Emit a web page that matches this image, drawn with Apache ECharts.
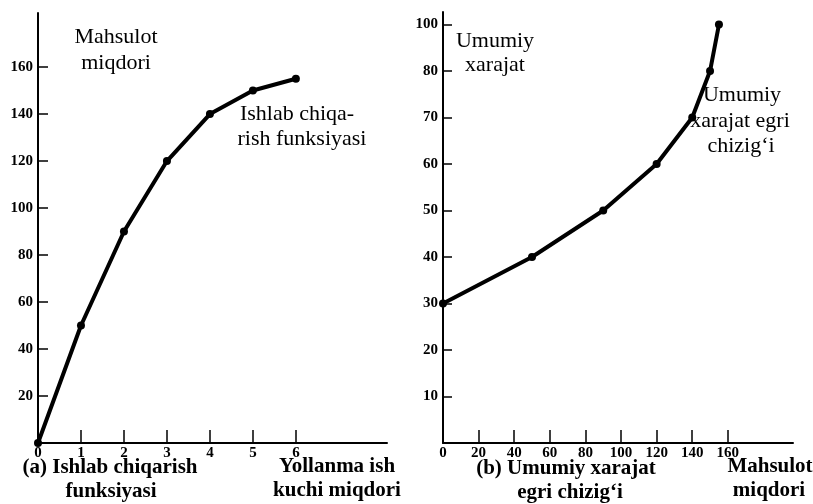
<!DOCTYPE html>
<html>
<head>
<meta charset="utf-8">
<script src="https://cdn.jsdelivr.net/npm/echarts@6/dist/echarts.min.js"></script>
<style>
  html, body { margin: 0; padding: 0; background: #ffffff; }
  #chart { width: 813px; height: 504px; }
</style>
</head>
<body>
<div id="chart"></div>
<script>
// ---- Data ----
const labor = [0, 1, 2, 3, 4, 5, 6];
const output = [0, 50, 90, 120, 140, 150, 155];
const costQuantity = [0, 50, 90, 120, 140, 150, 155];
const totalCost = [30, 40, 50, 60, 70, 80, 90];

// ---- Tick values / labels ----
const leftXTicks = [1, 2, 3, 4, 5, 6];
const leftXLabelValues = [0, 1, 2, 3, 4, 5, 6];
const leftYTicks = [20, 40, 60, 80, 100, 120, 140, 160];
const rightXTicks = [20, 40, 60, 80, 100, 120, 140, 160];
const rightXLabelValues = [0, 20, 40, 60, 80, 100, 120, 140, 160];
const rightYTicks = [10, 20, 30, 40, 50, 60, 70, 80, 90];
const rightYLabels = ['10', '20', '30', '40', '50', '60', '70', '80', '100'];

const SERIF = '"Liberation Serif", "DejaVu Serif", serif';
const axisLineStyle = { color: '#000', width: 2 };
const tickLine = { color: '#000', width: 1.5 };
const labelStyle = { color: '#000', fontFamily: SERIF, fontWeight: 'bold', fontSize: 15 };

function txt(text, x, y, size, bold, align) {
  return {
    type: 'text', x: x, y: y, silent: true,
    style: {
      text: text, fill: '#000',
      font: (bold ? 'bold ' : '') + size + 'px ' + SERIF,
      textAlign: align || 'center', textVerticalAlign: 'middle'
    }
  };
}

const chart = echarts.init(document.getElementById('chart'));
chart.setOption({
  animation: false,
  backgroundColor: '#ffffff',
  grid: [
    { left: 38, top: 13, width: 349, height: 430 },
    { left: 443, top: 12, width: 350, height: 431 }
  ],
  xAxis: [
    {
      gridIndex: 0, type: 'value', min: 0, max: 8.12,
      axisLine: { show: true, lineStyle: axisLineStyle },
      axisTick: { show: true, inside: true, length: 13, lineStyle: tickLine, customValues: leftXTicks },
      axisLabel: Object.assign({ margin: 3, customValues: leftXLabelValues, formatter: v => String(v) }, labelStyle),
      splitLine: { show: false }
    },
    {
      gridIndex: 1, type: 'value', min: 0, max: 196.6,
      axisLine: { show: true, lineStyle: axisLineStyle },
      axisTick: { show: true, inside: true, length: 13, lineStyle: tickLine, customValues: rightXTicks },
      axisLabel: Object.assign({ margin: 3, customValues: rightXLabelValues, formatter: v => String(v) }, labelStyle),
      splitLine: { show: false }
    }
  ],
  yAxis: [
    {
      gridIndex: 0, type: 'value', min: 0, max: 183,
      axisLine: { show: true, lineStyle: axisLineStyle },
      axisTick: { show: true, inside: true, length: 10, lineStyle: tickLine, customValues: leftYTicks },
      axisLabel: Object.assign({ margin: 5, customValues: leftYTicks, formatter: v => String(v) }, labelStyle),
      splitLine: { show: false }
    },
    {
      gridIndex: 1, type: 'value', min: 0, max: 92.7,
      axisLine: { show: true, lineStyle: axisLineStyle },
      axisTick: { show: true, inside: true, length: 9, lineStyle: tickLine, customValues: rightYTicks },
      axisLabel: Object.assign({
        margin: 5, customValues: rightYTicks,
        formatter: v => { const i = rightYTicks.indexOf(Math.round(v)); return i >= 0 ? rightYLabels[i] : ''; }
      }, labelStyle),
      splitLine: { show: false }
    }
  ],
  series: [
    {
      type: 'line', xAxisIndex: 0, yAxisIndex: 0,
      data: labor.map((l, i) => [l, output[i]]),
      symbol: 'circle', symbolSize: 8,
      lineStyle: { color: '#000', width: 4 },
      itemStyle: { color: '#000' },
      clip: false
    },
    {
      type: 'line', xAxisIndex: 1, yAxisIndex: 1,
      data: costQuantity.map((q, i) => [q, totalCost[i]]),
      symbol: 'circle', symbolSize: 8,
      lineStyle: { color: '#000', width: 4 },
      itemStyle: { color: '#000' },
      clip: false
    }
  ],
  graphic: [
    txt('Mahsulot', 116, 37, 22, false),
    txt('miqdori', 116, 63, 22, false),
    txt('Ishlab chiqa-', 297, 114, 22, false),
    txt('rish funksiyasi', 302, 139, 22, false),
    txt('Umumiy', 495, 41, 22, false),
    txt('xarajat', 495, 65, 22, false),
    txt('Umumiy', 742, 95, 22, false),
    txt('xarajat egri', 740, 121, 22, false),
    txt('chizig‘i', 741, 146, 22, false),
    txt('(a) Ishlab chiqarish', 110, 468, 21, true),
    txt('funksiyasi', 111, 492, 21, true),
    txt('Yollanma ish', 337, 467, 21, true),
    txt('kuchi miqdori', 337, 491, 21, true),
    txt('(b) Umumiy xarajat', 566, 469, 21, true),
    txt('egri chizig‘i', 570, 493, 21, true),
    txt('Mahsulot', 770, 467, 21, true),
    txt('miqdori', 769, 491, 21, true)
  ]
});
</script>
</body>
</html>
